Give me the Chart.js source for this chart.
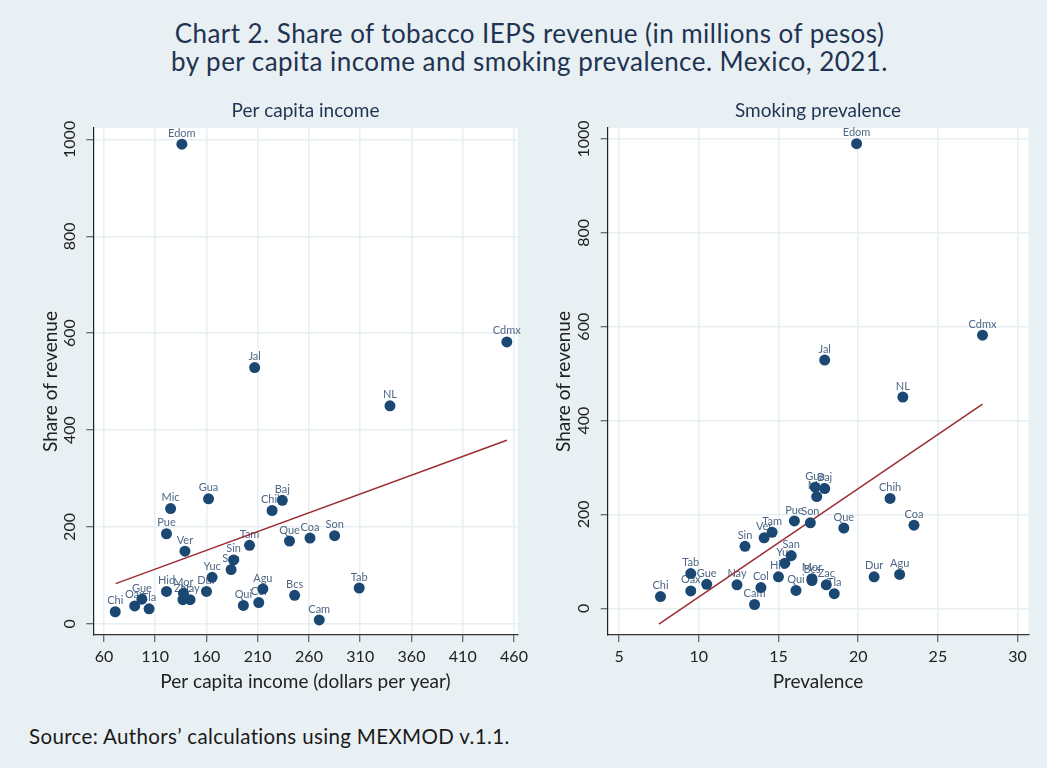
<!DOCTYPE html>
<html>
<head>
<meta charset="utf-8">
<script src="https://cdn.jsdelivr.net/npm/chart.js@4.4.0/dist/chart.umd.min.js"></script>
<style>
  html, body { margin: 0; padding: 0; background: #e9f0f3; }
  body { width: 1047px; height: 768px; position: relative; overflow: hidden; font-family: Lato, sans-serif; }
  #titulo { position: absolute; left: 6px; top: 19px; width: 1047px; text-align: center; color: #1f3352; font-size: 26px; letter-spacing: 0.45px; line-height: 28px; }
  #fuente { position: absolute; left: 29px; top: 724px; font-size: 20.5px; letter-spacing: 0.35px; line-height: 24px; color: #1a1a1a; }
  canvas { position: absolute; }
</style>
</head>
<body>
<div id="titulo">Chart 2. Share of tobacco IEPS revenue (in millions of pesos)<br>by per capita income and smoking prevalence. Mexico, 2021.</div>
<canvas id="g-ingreso" width="545" height="606" style="left:0;top:90px"></canvas>
<canvas id="g-prevalencia" width="517" height="606" style="left:530px;top:90px"></canvas>
<div id="fuente">Source: Authors’ calculations using MEXMOD v.1.1.</div>
<script>
// datos
const estados = ['Edom','Cdmx','Jal','NL','Gua','Baj','Mic','Chih','Pue','Son','Coa','Que','Tam','Ver','Sin','San',
  'Yuc','Tab','Agu','Hid','Dur','Mor','Bcs','Zac','Nay','Gue','Col','Qui','Oax','Tla','Chi','Cam'];
const recaudacion = [990, 582, 529, 450, 258, 255, 238, 234, 186, 182, 177, 171, 162, 150, 132, 112,
  96, 74, 72, 67, 67, 63, 59, 50, 50, 51, 44, 38, 37, 31, 25, 8];
const ingreso = [136, 453, 207, 339, 162, 234, 125, 224, 121, 285, 261, 241, 202, 139, 186.5, 184,
  165.5, 309, 215, 121, 160, 137.5, 246, 137, 144, 97, 211, 196, 90, 104, 71, 270];
const prevalencia = [19.9, 27.8, 17.9, 22.8, 17.3, 17.9, 17.4, 22.0, 16.0, 17.0, 23.5, 19.1, 14.6, 14.1, 12.9, 15.8,
  15.4, 9.5, 22.6, 15.0, 21.0, 17.1, 17.1, 18.0, 12.4, 10.5, 13.9, 16.1, 9.5, 18.5, 7.6, 13.5];

// rectas de ajuste (extremos)
const ajusteIngresoX = [71.4, 453];
const ajusteIngresoY = [83, 379];
const ajustePrevX = [7.5, 27.8];
const ajustePrevY = [-34, 435];

const ticksIngreso = [60, 110, 160, 210, 260, 310, 360, 410, 460];
const ticksPrev = [5, 10, 15, 20, 25, 30];
const ticksRec = [0, 200, 400, 600, 800, 1000];

const fondoBlanco = {
  id: 'fondoBlanco',
  beforeDraw(chart) {
    const { ctx, chartArea: a } = chart;
    ctx.save();
    ctx.fillStyle = '#ffffff';
    ctx.fillRect(a.left, a.top, a.width, a.height);
    ctx.restore();
  }
};

const etiquetas = {
  id: 'etiquetas',
  beforeDatasetsDraw(chart) {
    const { ctx } = chart;
    const meta = chart.getDatasetMeta(0);
    ctx.save();
    ctx.font = '11px Lato';
    ctx.fillStyle = '#4f6886';
    ctx.textAlign = 'center';
    ctx.textBaseline = 'middle';
    meta.data.forEach((p, i) => ctx.fillText(estados[i], p.x, p.y - 11));
    ctx.restore();
  }
};

function crearGrafico(id, cfg) {
  const ctx = document.getElementById(id).getContext('2d');
  return new Chart(ctx, {
    type: 'scatter',
    data: {
      datasets: [
        {
          data: estados.map((e, i) => ({ x: cfg.xs[i], y: recaudacion[i] })),
          pointRadius: 5.5, pointHoverRadius: 5.5,
          backgroundColor: '#1b4872', borderWidth: 0
        },
        {
          type: 'line',
          data: cfg.lineaX.map((x, i) => ({ x: x, y: cfg.lineaY[i] })),
          borderColor: '#9b2d33', borderWidth: 1.5, pointRadius: 0, fill: false
        }
      ]
    },
    options: {
      responsive: false,
      animation: false,
      layout: { padding: { left: 0, right: cfg.derecha, top: 0, bottom: 0 } },
      plugins: {
        legend: { display: false },
        tooltip: { enabled: false },
        title: {
          display: true, text: cfg.titulo, fullSize: false, color: '#1f3352',
          font: { family: 'Lato', size: 19, weight: 'normal' },
          padding: { top: 9.4, bottom: 5.8 }
        }
      },
      scales: {
        x: {
          type: 'linear', min: cfg.xmin, max: cfg.xmax,
          afterBuildTicks: s => { s.ticks = cfg.ticksX.map(v => ({ value: v })); },
          afterFit: s => { s.height = 61; },
          grid: { color: '#e8eff2', lineWidth: 1.5, tickLength: 7, tickColor: '#444', tickWidth: 1 },
          border: { color: '#333', width: 1.2 },
          ticks: { color: '#222', font: { family: 'Lato', size: 16 }, padding: 5, autoSkip: false, maxRotation: 0 },
          title: { display: true, text: cfg.tituloX, color: '#222', font: { family: 'Lato', size: 19 }, padding: { top: 0, bottom: 2.6 } }
        },
        y: {
          type: 'linear', min: cfg.ymin, max: 1023.5,
          afterBuildTicks: s => { s.ticks = ticksRec.map(v => ({ value: v })); },
          afterFit: s => { s.width = cfg.anchoY; },
          grid: { color: '#e8eff2', lineWidth: 1.5, tickLength: 7, tickColor: '#444', tickWidth: 1 },
          border: { color: '#222', width: 1.2 },
          ticks: {
            color: '#222', font: { family: 'Lato', size: 16 }, padding: -2,
            minRotation: 90, maxRotation: 90, crossAlign: 'center',
            callback: v => String(v)
          },
          title: { display: true, text: 'Share of revenue', color: '#222', font: { family: 'Lato', size: 19 }, padding: { top: cfg.padTituloY, bottom: 0 } }
        }
      }
    },
    plugins: [fondoBlanco, etiquetas]
  });
}

crearGrafico('g-ingreso', {
  xs: ingreso, lineaX: ajusteIngresoX, lineaY: ajusteIngresoY,
  titulo: 'Per capita income', tituloX: 'Per capita income (dollars per year)',
  xmin: 49.6, xmax: 463.6, ymin: -23, ticksX: ticksIngreso,
  anchoY: 93.3, padTituloY: 39.6, derecha: 27.3
});

crearGrafico('g-prevalencia', {
  xs: prevalencia, lineaX: ajustePrevX, lineaY: ajustePrevY,
  titulo: 'Smoking prevalence', tituloX: 'Prevalence',
  xmin: 4.29, xmax: 30.67, ymin: -57, ticksX: ticksPrev,
  anchoY: 77.7, padTituloY: 22.6, derecha: 18.7
});
</script>
</body>
</html>
